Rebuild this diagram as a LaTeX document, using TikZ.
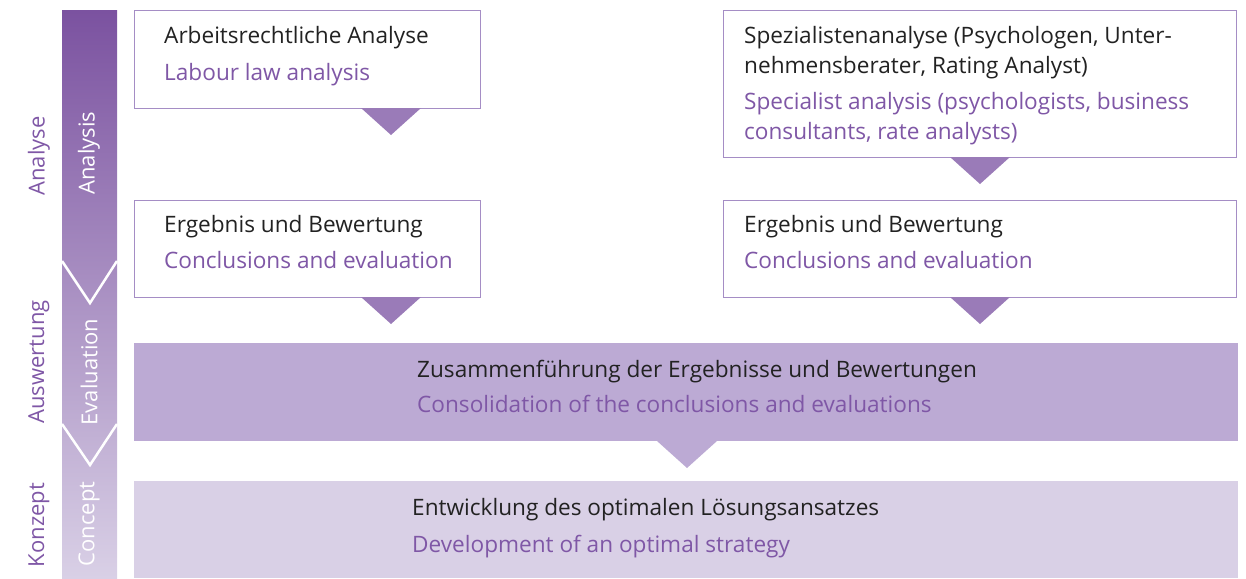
\documentclass[tikz,border=0pt]{standalone}
\usepackage{fontspec}
\setmainfont{Open Sans}
\usetikzlibrary{shapes.geometric}
\definecolor{pdark}{HTML}{7B52A0}
\definecolor{plight}{HTML}{D9D0E6}
\definecolor{ptext}{HTML}{7F57A6}
\definecolor{ptri}{HTML}{9A7BB8}
\definecolor{pborder}{HTML}{A58DC5}
\definecolor{pmid}{HTML}{BCAAD4}
\definecolor{txt}{HTML}{222222}
\tikzset{
  x=1pt, y=-1pt,
  box/.style={draw=pborder, line width=1pt, fill=white},
  tri/.style={fill=ptri},
  de/.style={anchor=base west, inner sep=0pt, text=txt, font=\fontsize{22.6}{26}\selectfont},
  en/.style={anchor=base west, inner sep=0pt, text=ptext, font=\fontsize{22.6}{26}\selectfont},
  side/.style={rotate=90, inner sep=0pt, text=ptext, font=\fontsize{22}{26}\selectfont},
  inside/.style={rotate=90, inner sep=0pt, text=white, font=\fontsize{22}{26}\selectfont},
  chev/.style={draw=white, line width=2.5pt},
}
\begin{document}
\begin{tikzpicture}
\useasboundingbox (0,0) rectangle (1246,578);
% left bar
\shade[top color=pdark, bottom color=plight] (62,11) rectangle (117,578);
\draw[chev] (62,261) -- (90,303) -- (117,261);
\draw[chev] (62,424) -- (90,465) -- (117,424);
\node[inside] (ianalysis) at (89,153) {Analysis};
\node[inside] (ieval) at (89,372) {Evaluation};
\node[inside] (iconcept) at (89,524) {Concept};
\node[side] (sanalyse) at (39,156) {Analyse};
\node[side] (sausw) at (39,362) {Auswertung};
\node[side] (skonz) at (39,525) {Konzept};
% boxes
\path[box] (134,11) rectangle (480,108);
\fill[tri] (361,108) -- (421,108) -- (391,135) -- cycle;
\path[box] (723,11) rectangle (1236,157);
\fill[tri] (950,157) -- (1010,157) -- (980,184) -- cycle;
\path[box] (134,200) rectangle (480,297);
\fill[tri] (361,297) -- (421,297) -- (391,324) -- cycle;
\path[box] (723,200) rectangle (1236,297);
\fill[tri] (950,297) -- (1010,297) -- (980,324) -- cycle;
\fill[pmid] (134,343) rectangle (1238,441);
\fill[pmid] (657,441) -- (717,441) -- (687,468) -- cycle;
\fill[plight] (134,481) rectangle (1238,578);
% texts
\node[de] (t1a) at (164,44) {Arbeitsrechtliche Analyse};
\node[en] (t1b) at (164,80) {Labour law analysis};
\node[de] (t2a) at (744,44) {Spezialistenanalyse (Psychologen, Unter-};
\node[de] (t2b) at (744,74) {nehmensberater, Rating Analyst)};
\node[en] (t2c) at (744,109) {Specialist analysis (psychologists, business};
\node[en] (t2d) at (744,139) {consultants, rate analysts)};
\node[de] (t3a) at (164,232) {Ergebnis und Bewertung};
\node[en] (t3b) at (164,268) {Conclusions and evaluation};
\node[de] (t4a) at (744,232) {Ergebnis und Bewertung};
\node[en] (t4b) at (744,268) {Conclusions and evaluation};
\node[de] (t5a) at (417,377) {Zusammenführung der Ergebnisse und Bewertungen};
\node[en] (t5b) at (417,412) {Consolidation of the conclusions and evaluations};
\node[de] (t6a) at (412,515) {Entwicklung des optimalen Lösungsansatzes};
\node[en] (t6b) at (412,552) {Development of an optimal strategy};
\end{tikzpicture}
\end{document}
